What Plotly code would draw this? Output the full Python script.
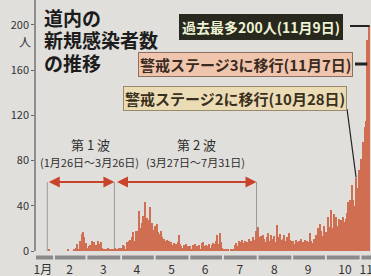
import pandas as pd
import plotly.graph_objects as go

# ---- data (daily new cases, Hokkaido) ----
start_date = "2020-01-16"
end_date = "2020-11-09"
jan = [0,0,0,0,0,0,0,0,0,0,0,0,1,0,0,0]
feb = [0,0,0,0,0,0,0,0,0,0,0,0,0,1,0,0,0,0,1,1,3,6,1,9,4,15,17,12,5]
mar = [7,3,4,5,4,9,7,8,4,5,9,5,6,8,3,2,1,2,1,3,0,1,1,2,2,2,3,2,1,3,3]
apr = [2,3,5,4,2,8,5,9,10,7,12,17,9,18,13,18,35,14,20,25,31,43,26,29,27,22,39,23,25,19]
may = [22,19,24,17,15,13,18,12,11,9,8,10,7,9,6,8,5,7,4,6,5,8,14,6,4,3,5,4,6,3,4]
jun = [3,4,2,5,3,6,2,4,3,5,2,7,8,4,3,5,2,4,6,3,5,7,4,6,9,14,6,16,8,3]
jul = [1,2,0,1,2,1,0,1,2,1,2,5,7,4,9,6,8,10,5,7,9,6,8,11,7,9,6,12,8,10,18]
aug = [21,12,10,13,9,14,11,8,12,16,9,7,14,10,11,13,8,23,12,9,15,10,7,11,14,9,12,8,16,10,9]
sep = [7,9,6,10,8,5,9,7,11,6,8,10,7,9,6,8,16,9,7,11,10,14,12,20,15,24,18,13,22,17]
oct_ = [17,16,30,21,13,36,20,33,29,30,22,17,28,25,27,30,26,16,28,34,43,42,45,58,45,40,24,65,45,56,72]
nov = [81,56,96,77,110,115,187,153,200]

month_ticks = ["2020-01-22","2020-02-15","2020-03-16","2020-04-15","2020-05-16","2020-06-15",
               "2020-07-16","2020-08-16","2020-09-15","2020-10-18","2020-11-06"]
month_labels = ["1月","2","3","4","5","6","7","8","9","10","11"]
y_ticks = [0, 40, 80, 120, 160, 200]

wave_names = ["第 1 波", "第 2 波"]
wave_periods = ["(1月26日～3月26日)", "(3月27日～7月31日)"]
wave_start = ["2020-01-26", "2020-03-27"]
wave_end = ["2020-03-26", "2020-07-31"]

dates = pd.date_range(start_date, end_date, freq="D")
cases = jan + feb + mar + apr + may + jun + jul + aug + sep + oct_ + nov
s = pd.Series(cases, index=dates)

# ---- layout helpers ----
BG = "#e0dfdb"
BAR = "#cf6e50"
W, H = 371, 276
L, R, T, B = 36, 0, 0, 25
X0 = pd.Timestamp("2020-01-15 22:00")
X1 = pd.Timestamp("2020-11-10 08:00")
YMAX = 222

def px(xp):
    return (xp - L) / (W - L - R)

def py(yp):
    return (H - B - yp) / (H - B - T)

def xd(d):
    return (pd.Timestamp(d) - X0) / (X1 - X0)

def yv(v):
    return v / YMAX

fig = go.Figure()
fig.add_trace(go.Bar(x=dates, y=cases, width=86400000, marker=dict(color=BAR, line=dict(width=0)),
                     hoverinfo="skip"))

shapes = []
annotations = []

# segmented month bar below the axis
month_starts = pd.date_range("2020-01-01", "2020-12-01", freq="MS")
for a, b in zip(month_starts[:-1], month_starts[1:]):
    x0 = max(a, X0)
    x1 = min(b, X1)
    if x1 <= x0:
        continue
    g0 = pd.Timedelta(hours=20) if a > X0 else pd.Timedelta(0)
    g1 = pd.Timedelta(hours=20) if b < X1 else pd.Timedelta(0)
    shapes.append(dict(type="rect", xref="paper", yref="paper",
                       x0=xd(x0 + g0), x1=xd(x1 - g1), y0=py(259.5), y1=py(255.5),
                       fillcolor="#8a8a8a", line=dict(width=0), layer="above"))

# wave boundary lines and arrows
arrow_y = 61
for d in [wave_start[0], wave_end[0], wave_end[1]]:
    shapes.append(dict(type="line", xref="x", yref="y", x0=d, x1=d, y0=0, y1=arrow_y,
                       line=dict(color="#9a9a9a", width=1), layer="below"))
for a, b in zip(wave_start, wave_end):
    annotations.append(dict(x=b, y=arrow_y, ax=a, ay=arrow_y, xref="x", yref="y",
                            axref="x", ayref="y", text="", showarrow=True,
                            arrowside="end+start", arrowhead=2, arrowsize=1.1, arrowwidth=2,
                            arrowcolor="#c8432c", standoff=0, startstandoff=0))

# wave labels
for name, per, cx in zip(wave_names, wave_periods, [90, 196]):
    annotations.append(dict(x=px(cx), y=py(145), xref="paper", yref="paper", text=name,
                            xanchor="center", yanchor="middle",
                            showarrow=False, font=dict(size=13, color="#2e2e2e")))
    annotations.append(dict(x=px(cx - 1), y=py(162), xref="paper", yref="paper", text=per,
                            xanchor="center", yanchor="middle",
                            showarrow=False, font=dict(size=11, color="#2e2e2e")))

# title
for txt, cy in zip(["道内の", "新規感染者数", "の推移"], [17, 40, 62]):
    annotations.append(dict(x=px(42), y=py(cy), xref="paper", yref="paper", text="<b>" + txt + "</b>",
                            xanchor="left", yanchor="middle", showarrow=False,
                            font=dict(size=19, color="#1c1c1c")))

# unit label
annotations.append(dict(x=px(25), y=py(42), xref="paper", yref="paper", text="人",
                        xanchor="center", yanchor="middle",
                        showarrow=False, font=dict(size=12, color="#333")))

# callout boxes
boxes = [
    ("過去最多200人(11月9日)", 261, 27, 14, "#28281f", "#28281f", "#eef2d4", "2020-11-09", 350, 26, 2),
    ("警戒ステージ3に移行(11月7日)", 245, 64, 15, "#efc6ad", "#8e6e5e", "#3b2a22", "2020-11-07", 355, 64, 3),
    ("警戒ステージ2に移行(10月28日)", 235, 98, 15, "#ecdcb6", "#998a6a", "#3a3020", "2020-10-28", 347, 109, 1.2),
]
for txt, cx, cy, fs, bg, bc, fc, d, lx, ly, lw in boxes:
    annotations.append(dict(x=px(cx), y=py(cy), xref="paper", yref="paper", text="<b>" + txt + "</b>",
                            xanchor="center", yanchor="middle",
                            showarrow=False, font=dict(size=fs, color=fc), bgcolor=bg,
                            bordercolor=bc, borderwidth=1, borderpad=2 if fs == 14 else 1))
    if lw == 1.2:
        tx, ty = xd(d), yv(s[pd.Timestamp(d)])
    else:
        tx, ty = xd(d), py(ly)
    shapes.append(dict(type="line", xref="paper", yref="paper", x0=px(lx), y0=py(ly), x1=tx, y1=ty,
                       line=dict(color="#222", width=lw), layer="above"))

fig.update_layout(
    width=W, height=H, margin=dict(l=L, r=R, t=T, b=B),
    paper_bgcolor=BG, plot_bgcolor=BG, showlegend=False, bargap=0,
    template="none",
    font=dict(family="Noto Sans CJK JP", color="#2b2b2b"),
    xaxis=dict(type="date", range=[X0, X1], tickvals=month_ticks, ticktext=month_labels,
               showgrid=False, zeroline=False, showline=False, ticks="",
               ticklabelstandoff=10, ticklabeloverflow="allow",
               tickfont=dict(size=12, color="#333"), automargin=False),
    yaxis=dict(range=[0, YMAX], tickvals=y_ticks, showgrid=False, zeroline=False,
               showline=True, linecolor="#8d8d8d", linewidth=1.5, ticks="outside",
               ticklen=3, tickwidth=1, tickcolor="#666", tickfont=dict(size=11, color="#333"),
               automargin=False),
    shapes=shapes, annotations=annotations,
)
fig.write_html("out.html", config={"displayModeBar": False},
               post_script="document.body.style.margin='0';document.body.style.overflow='hidden';")
